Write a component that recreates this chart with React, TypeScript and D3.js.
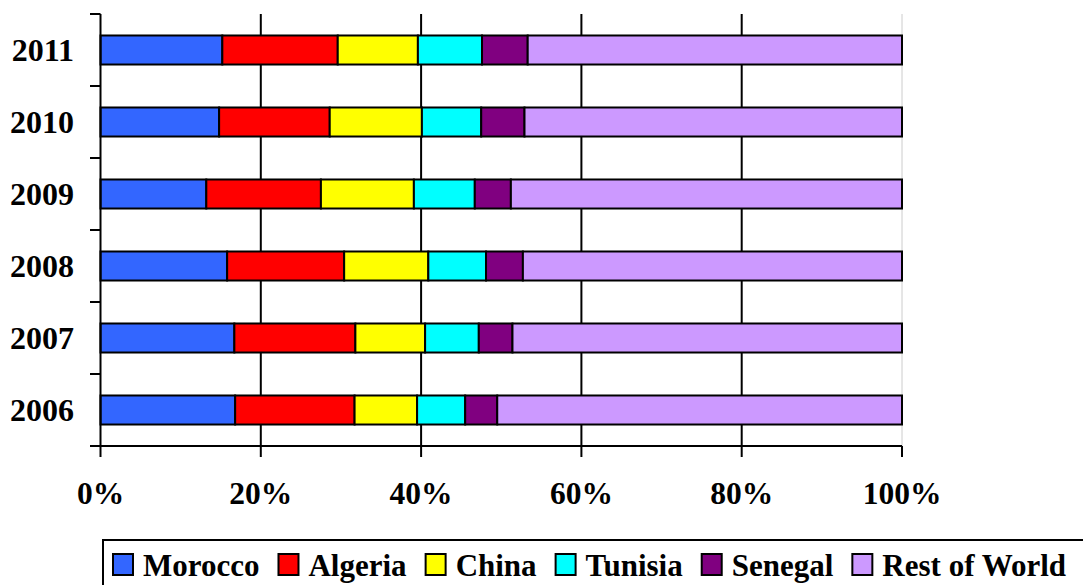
import React, { useEffect, useRef } from 'react';
import * as d3 from 'd3';

const years = ['2006', '2007', '2008', '2009', '2010', '2011'];
const countries = ['Morocco', 'Algeria', 'China', 'Tunisia', 'Senegal', 'Rest of World'];
const colors = ['#3366ff', '#ff0000', '#ffff00', '#00ffff', '#800080', '#cc99ff'];

// share of each country per year (%), order follows `years`
const morocco = [16.8, 16.7, 15.8, 13.2, 14.8, 15.2];
const algeria = [14.9, 15.1, 14.6, 14.3, 13.8, 14.4];
const china = [7.8, 8.7, 10.5, 11.6, 11.5, 10.0];
const tunisia = [6.0, 6.7, 7.2, 7.6, 7.4, 8.0];
const senegal = [4.0, 4.2, 4.6, 4.5, 5.4, 5.7];
const restOfWorld = [50.5, 48.6, 47.3, 48.8, 47.1, 46.7];

const xTicks = [0, 20, 40, 60, 80, 100];

const W = 1083;
const H = 585;
const FONT = '"Liberation Serif", "Times New Roman", serif';

const App: React.FC = () => {
  const svgRef = useRef<SVGSVGElement>(null);

  useEffect(() => {
    if (!svgRef.current) return;
    const svg = d3.select(svgRef.current);
    svg.selectAll('*').remove();

    const rows = years.map((year, i) => ({
      year,
      Morocco: morocco[i],
      Algeria: algeria[i],
      China: china[i],
      Tunisia: tunisia[i],
      Senegal: senegal[i],
      'Rest of World': restOfWorld[i],
    }));

    const stack = d3.stack<any>().keys(countries).offset(d3.stackOffsetExpand);
    const series = stack(rows);

    const x = d3.scaleLinear().domain([0, 1]).range([100.5, 902]);
    const y = d3.scaleBand<string>()
      .domain([...years].reverse())
      .range([14, 446])
      .paddingInner(0.597)
      .paddingOuter(0.2985);

    // gridlines
    svg.append('g')
      .selectAll('line')
      .data(xTicks.slice(1, -1))
      .join('line')
      .attr('x1', d => x(d / 100))
      .attr('x2', d => x(d / 100))
      .attr('y1', 14)
      .attr('y2', 446)
      .attr('stroke', '#000')
      .attr('stroke-width', 2);

    svg.append('line')
      .attr('x1', x(1)).attr('x2', x(1))
      .attr('y1', 14).attr('y2', 446)
      .attr('stroke', '#cccccc')
      .attr('stroke-width', 1);

    // bars
    svg.append('g')
      .selectAll('g')
      .data(series)
      .join('g')
      .attr('fill', (_, i) => colors[i])
      .selectAll('rect')
      .data(d => d)
      .join('rect')
      .attr('x', d => x(d[0]))
      .attr('width', d => x(d[1]) - x(d[0]))
      .attr('y', d => y(d.data.year)!)
      .attr('height', y.bandwidth())
      .attr('stroke', '#000')
      .attr('stroke-width', 2);

    // left axis
    const boundaries = d3.range(years.length + 1).map(i => 14 + i * y.step());
    svg.append('line')
      .attr('x1', 100.5).attr('x2', 100.5)
      .attr('y1', 14).attr('y2', 446)
      .attr('stroke', '#000').attr('stroke-width', 2);
    svg.append('g')
      .selectAll('line')
      .data(boundaries)
      .join('line')
      .attr('x1', 90).attr('x2', 100.5)
      .attr('y1', d => d).attr('y2', d => d)
      .attr('stroke', '#000').attr('stroke-width', 2);

    svg.append('g')
      .selectAll('text')
      .data(years)
      .join('text')
      .attr('x', 74)
      .attr('y', d => y(d)! + y.bandwidth() / 2 + 11)
      .attr('text-anchor', 'end')
      .attr('font-family', FONT)
      .attr('font-weight', 'bold')
      .attr('font-size', 32)
      .text(d => d);

    // bottom axis
    svg.append('line')
      .attr('x1', 90).attr('x2', 902)
      .attr('y1', 446).attr('y2', 446)
      .attr('stroke', '#000').attr('stroke-width', 2);
    svg.append('g')
      .selectAll('line')
      .data(xTicks)
      .join('line')
      .attr('x1', d => x(d / 100)).attr('x2', d => x(d / 100))
      .attr('y1', 446).attr('y2', 457)
      .attr('stroke', '#000').attr('stroke-width', 2);
    svg.append('g')
      .selectAll('text')
      .data(xTicks)
      .join('text')
      .attr('x', d => x(d / 100))
      .attr('y', 504)
      .attr('text-anchor', 'middle')
      .attr('font-family', FONT)
      .attr('font-weight', 'bold')
      .attr('font-size', 31.5)
      .text(d => `${d}%`);

    // legend
    svg.append('rect')
      .attr('x', 103).attr('y', 540)
      .attr('width', 1000).attr('height', 100)
      .attr('fill', '#fff')
      .attr('stroke', '#000').attr('stroke-width', 2);

    let cx = 113;
    countries.forEach((c, i) => {
      svg.append('rect')
        .attr('x', cx).attr('y', 554)
        .attr('width', 20).attr('height', 21)
        .attr('fill', colors[i])
        .attr('stroke', '#000').attr('stroke-width', 2);
      const t = svg.append('text')
        .attr('x', cx + 30)
        .attr('y', 576)
        .attr('font-family', FONT)
        .attr('font-weight', 'bold')
        .attr('font-size', 31)
        .text(c);
      const w = (t.node() as SVGTextElement).getComputedTextLength();
      cx += 30 + w + 19;
    });
  }, []);

  return (
    <div style={{ position: 'absolute', left: 0, top: 0, width: W, height: H, background: '#fff' }}>
      <svg ref={svgRef} width={W} height={H} style={{ display: 'block' }} />
    </div>
  );
};

export default App;
